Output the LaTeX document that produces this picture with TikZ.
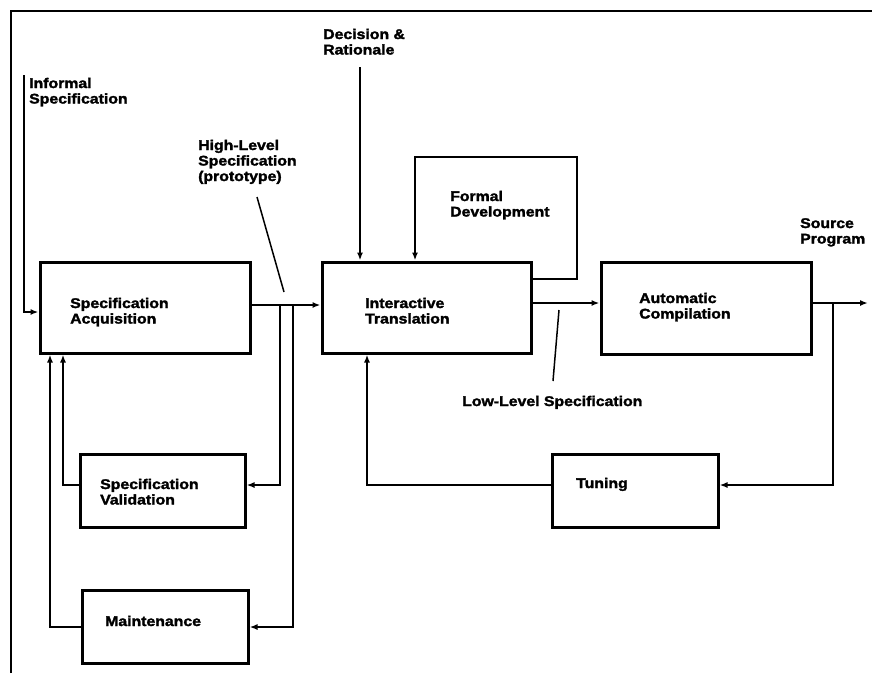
\documentclass[tikz,border=0pt]{standalone}
\usepackage{fontspec}
\setmainfont{Liberation Sans}[FakeStretch=1.13, BoldFeatures={FakeBold=2}]
\usetikzlibrary{arrows.meta}
\begin{document}
\begin{tikzpicture}[x=1pt,y=-1pt,
  box/.style={draw, line width=3pt, inner sep=0pt},
  conn/.style={line width=2.1pt},
  arr/.style={conn, -{Latex[length=8pt,width=6pt]}},
  ptr/.style={line width=1.5pt},
  lab/.style={font=\fontsize{14}{15.5}\selectfont\bfseries, align=left, inner sep=0pt, anchor=base west},
  frame/.style={line width=1.8pt}]
\useasboundingbox (0,0) rectangle (872,673);
% frame
\coordinate (fbl) at (11,673);
\coordinate (ftl) at (11,11);
\coordinate (ftr) at (872,11);
\draw[frame] (fbl) -- (ftl) -- (ftr);
% boxes
\node[box, minimum width=210pt, minimum height=91pt] (sa) at (145,307.5) {};
\node[box, minimum width=209pt, minimum height=91pt] (it) at (426.5,307.5) {};
\node[box, minimum width=210pt, minimum height=92pt] (ac) at (706,308) {};
\node[box, minimum width=165pt, minimum height=73pt] (sv) at (162.5,490.5) {};
\node[box, minimum width=166pt, minimum height=73pt] (mt) at (165,626.5) {};
\node[box, minimum width=166pt, minimum height=73pt] (tu) at (635,490.5) {};
% labels (anchor = baseline of last line)
\node[lab] (lsa) at (70,323.5) {Specification\\Acquisition};
\node[lab] (lit) at (365,323.5) {Interactive\\Translation};
\node[lab] (lac) at (639,318.5) {Automatic\\Compilation};
\node[lab] (lsv) at (100,504.5) {Specification\\Validation};
\node[lab] (lmt) at (105,626) {Maintenance};
\node[lab] (ltu) at (576,488) {Tuning};
\node[lab] (lfd) at (450,216.5) {Formal\\Development};
\node[lab] (linf) at (29,103.5) {Informal\\Specification};
\node[lab] (ldec) at (323,54.5) {Decision \&\\Rationale};
\node[lab] (lhl) at (198,181) {High-Level\\Specification\\(prototype)};
\node[lab] (lsp) at (800,243.5) {Source\\Program};
\node[lab] (lll) at (462,406) {Low-Level Specification};
% informal spec input
\coordinate (inftop) at (24,75);
\draw[arr] (inftop) |- ([yshift=-4.5pt]sa.west);
% decision input
\coordinate (dectop) at (360,67);
\draw[arr] (dectop) -- (dectop |- it.north);
% SA -> IT
\draw[arr] ([yshift=2.5pt]sa.east) -- ([yshift=2.5pt]it.west);
\coordinate (j1) at (280,305);
\coordinate (j2) at (293,305);
\draw[arr] (j1) |- ([yshift=5.5pt]sv.east);
\draw[arr] (j2) |- ([yshift=-0.5pt]mt.east);
% SV, MT -> SA
\coordinate (svl) at (63,485);
\coordinate (mtl) at (50,627);
\draw[arr] ([yshift=5.5pt]sv.west) -- (svl) -- (svl |- sa.south);
\draw[arr] ([yshift=-0.5pt]mt.west) -- (mtl) -- (mtl |- sa.south);
% formal development loop
\coordinate (fd1) at (577,279);
\coordinate (fd2) at (577,157);
\coordinate (fd3) at (415,157);
\draw[arr] (it.east |- fd1) -- (fd1) -- (fd2) -- (fd3) -- (fd3 |- it.north);
% IT -> AC
\draw[arr] ([yshift=4.5pt]it.east) -- ([yshift=5pt]ac.west);
% AC out
\coordinate (out) at (868,303);
\draw[arr] ([yshift=5pt]ac.east) -- (out);
\coordinate (j3) at (833,303);
\draw[arr] (j3) |- ([yshift=5.5pt]tu.east);
% tuning -> IT
\coordinate (tul) at (367,485);
\draw[arr] ([yshift=5.5pt]tu.west) -- (tul) -- (tul |- it.south);
% pointers
\coordinate (hp1) at (257,197);
\coordinate (hp2) at (284,292);
\draw[ptr] (hp1) -- (hp2);
\coordinate (lp1) at (559,310);
\coordinate (lp2) at (553,381);
\draw[ptr] (lp1) -- (lp2);
\end{tikzpicture}
\end{document}
